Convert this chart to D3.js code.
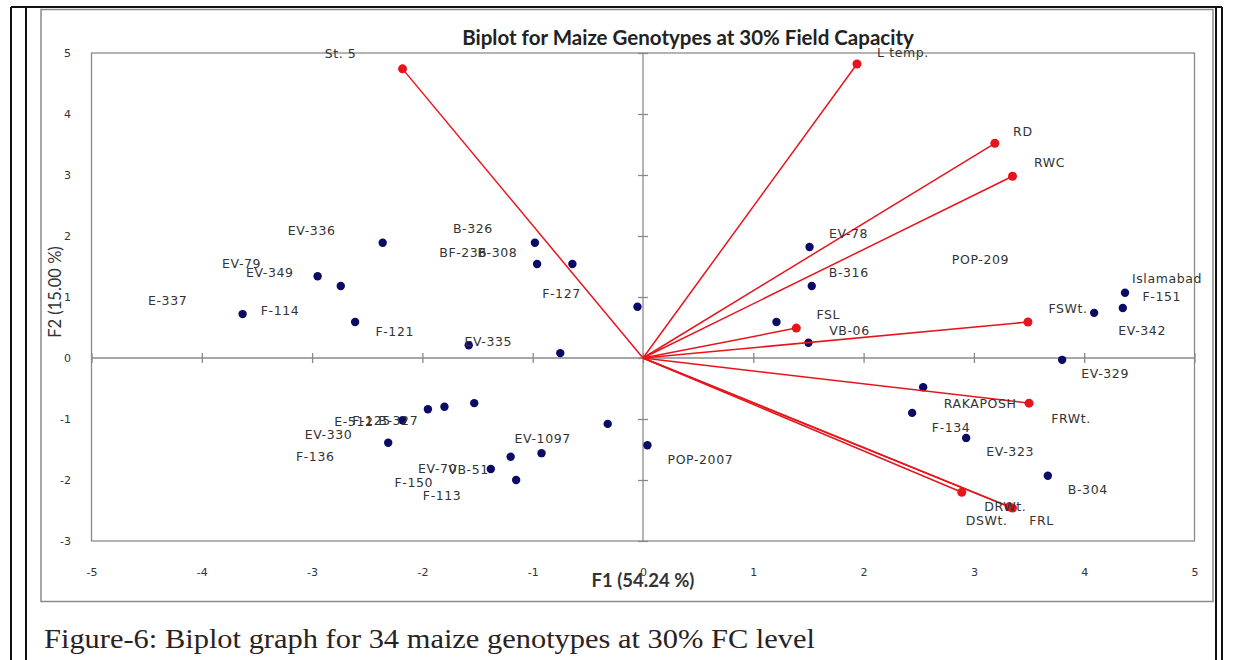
<!DOCTYPE html>
<html>
<head>
<meta charset="utf-8">
<script src="https://cdn.jsdelivr.net/npm/d3@7"></script>
<style>
  body { margin: 0; background: #fff; }
</style>
</head>
<body>
<svg width="1235" height="660"></svg>
<script>
const genotypes = ["EV-336","EV-79","EV-349","E-337","F-114","B-326","BF-236","B-308","F-127","F-121","EV-335",
  "EV-78","B-316","POP-209","VB-06","EV-342","Islamabad","F-151","EV-329","RAKAPOSH","F-134","EV-323","B-304",
  "E-512","F-125","B-327","EV-330","EV-1097","POP-2007","VB-51","EV-70","F-150","F-113","F-136"];
const genoF1 = [-2.36,-2.95,-2.74,-3.63,-2.61,-0.98,-0.96,-0.64,-0.05,-1.58,-0.75,
  1.51,1.53,1.21,1.50,4.09,4.37,4.35,3.80,2.54,2.44,2.93,3.67,
  -1.95,-1.80,-1.53,-2.18,-0.32,0.04,-0.92,-1.20,-1.38,-1.15,-2.31];
const genoF2 = [1.89,1.34,1.18,0.72,0.59,1.89,1.54,1.54,0.84,0.21,0.08,
  1.82,1.18,0.59,0.25,0.74,1.07,0.82,-0.03,-0.48,-0.90,-1.31,-1.93,
  -0.84,-0.80,-0.74,-1.02,-1.08,-1.43,-1.56,-1.62,-1.82,-2.00,-1.39];

// variables (loading vectors)
const variables = ["St. 5","L temp.","RD","RWC","FSL","FSWt.","FRWt.","DRWt.","DSWt.","FRL"];
const varF1 = [-2.18,1.94,3.19,3.35,1.39,3.49,3.50,3.32,2.89,3.35];
const varF2 = [4.74,4.82,3.52,2.98,0.49,0.59,-0.74,-2.44,-2.20,-2.46];

const xTicks = [-5,-4,-3,-2,-1,0,1,2,3,4,5];
const yTicks = [-3,-2,-1,0,1,2,3,4,5];

// label placement (px nudges from the point, as XLSTAT left them)
const genoNudge = [[-71,-12],[-76,-13],[-71,-14],[-75,-14],[-75,-12],[-62,-14],[-74,-12],[-75,-12],[-76,-13],[-74,-14],[-72,-12],
  [39,-13],[37,-14],[204,-63],[41,-12],[48,18],[42,-14],[39,-11],[43,14],[57,16],[39,15],[44,14],[40,14],
  [-74,12],[-73,14],[-76,17],[-74,14],[-65,15],[53,14],[-73,16],[-73,12],[-77,13],[-74,15],[-73,14]];
const varNudge = [[-62,-15],[46,-11],[28,-12],[37,-14],[32,-14],[40,-14],[42,15],[-4,0],[25,28],[29,12]];

const svg = d3.select("svg");

// page / table frame
const frame = svg.append("g").attr("stroke", "#111").attr("stroke-width", 2);
frame.append("line").attr("x1", 11).attr("x2", 1222).attr("y1", 7).attr("y2", 7);
[11, 26, 1216, 1222].forEach(xx => {
  frame.append("line").attr("x1", xx).attr("x2", xx).attr("y1", 7).attr("y2", 660);
});

// chart area border
svg.append("rect").attr("x", 41).attr("y", 9.5).attr("width", 1172).attr("height", 592)
  .attr("fill", "#fff").attr("stroke", "#8a8a8a").attr("stroke-width", 1.5);

const x = d3.scaleLinear().domain([-5, 5]).range([91.5, 1194.5]);
const y = d3.scaleLinear().domain([-3, 5]).range([541, 53]);

// plot area
svg.append("rect").attr("x", x(-5)).attr("y", y(5)).attr("width", x(5) - x(-5)).attr("height", y(-3) - y(5))
  .attr("fill", "none").attr("stroke", "#8a8a8a").attr("stroke-width", 1.3);

// zero axes with cross ticks
const xAxis = svg.append("g").attr("transform", `translate(0,${y(0) - 5})`)
  .call(d3.axisBottom(x).tickValues(xTicks).tickSize(10).tickFormat(""));
const yAxis = svg.append("g").attr("transform", `translate(${x(0) + 5},0)`)
  .call(d3.axisLeft(y).tickValues(yTicks).tickSize(10).tickFormat(""));
[xAxis, yAxis].forEach(g => {
  g.select(".domain").remove();
  g.selectAll("line").attr("stroke", "#8a8a8a").attr("stroke-width", 1.3);
});
svg.append("line").attr("x1", x(-5)).attr("x2", x(5)).attr("y1", y(0)).attr("y2", y(0))
  .attr("stroke", "#8a8a8a").attr("stroke-width", 1.3);
svg.append("line").attr("x1", x(0)).attr("x2", x(0)).attr("y1", y(5)).attr("y2", y(-3))
  .attr("stroke", "#8a8a8a").attr("stroke-width", 1.3);

// tick labels (low position)
const xLab = svg.append("g").attr("transform", "translate(0,568)")
  .call(d3.axisBottom(x).tickValues(xTicks).tickSize(0).tickPadding(0).tickFormat(d => String(d)));
const yLab = svg.append("g").attr("transform", "translate(71,0)")
  .call(d3.axisLeft(y).tickValues(yTicks).tickSize(0).tickPadding(0).tickFormat(d => String(d)));
[xLab, yLab].forEach(g => {
  g.select(".domain").remove();
  g.selectAll("text").attr("font-family", "DejaVu Sans").attr("font-size", 11).attr("fill", "#333");
});

// observations
svg.append("g").selectAll("circle")
  .data(genotypes)
  .enter().append("circle")
  .attr("cx", (d, i) => x(genoF1[i]))
  .attr("cy", (d, i) => y(genoF2[i]))
  .attr("r", 4.2)
  .attr("fill", "#0b0b66");

// variable vectors
svg.append("g").selectAll("line")
  .data(variables)
  .enter().append("line")
  .attr("x1", x(0)).attr("y1", y(0))
  .attr("x2", (d, i) => x(varF1[i]))
  .attr("y2", (d, i) => y(varF2[i]))
  .attr("stroke", "#e8141c")
  .attr("stroke-width", 1.5);

svg.append("g").selectAll("circle")
  .data(variables)
  .enter().append("circle")
  .attr("cx", (d, i) => x(varF1[i]))
  .attr("cy", (d, i) => y(varF2[i]))
  .attr("r", 4.5)
  .attr("fill", "#e8141c");

// labels
const labelFont = g => g.attr("font-family", "DejaVu Sans").attr("font-size", 12.5)
  .attr("letter-spacing", 0.6).attr("fill", "#333")
  .attr("text-anchor", "middle").attr("dominant-baseline", "central");

svg.append("g").call(labelFont).selectAll("text")
  .data(genotypes)
  .enter().append("text")
  .attr("x", (d, i) => x(genoF1[i]) + genoNudge[i][0])
  .attr("y", (d, i) => y(genoF2[i]) + genoNudge[i][1])
  .text(d => d);

svg.append("g").call(labelFont).selectAll("text")
  .data(variables)
  .enter().append("text")
  .attr("x", (d, i) => x(varF1[i]) + varNudge[i][0])
  .attr("y", (d, i) => y(varF2[i]) + varNudge[i][1])
  .text(d => d);

// titles
svg.append("text").attr("x", 688).attr("y", 45).attr("text-anchor", "middle")
  .attr("font-family", "Lato").attr("font-weight", 700).attr("font-size", 20.5).attr("fill", "#222")
  .text("Biplot for Maize Genotypes at 30% Field Capacity");

svg.append("text").attr("x", 643).attr("y", 587).attr("text-anchor", "middle")
  .attr("font-family", "Lato").attr("font-weight", 700).attr("font-size", 18.5).attr("fill", "#333")
  .text("F1 (54.24 %)");

svg.append("text").attr("transform", "translate(61,292) rotate(-90)").attr("text-anchor", "middle")
  .attr("font-family", "Lato").attr("font-size", 16.5).attr("fill", "#333")
  .text("F2 (15.00 %)");

svg.append("text").attr("x", 44).attr("y", 648)
  .attr("font-family", "Liberation Serif").attr("font-size", 27).attr("fill", "#2a2222")
  .attr("textLength", 771).attr("lengthAdjust", "spacingAndGlyphs")
  .text("Figure-6: Biplot graph for 34 maize genotypes at 30% FC level");
</script>
</body>
</html>
